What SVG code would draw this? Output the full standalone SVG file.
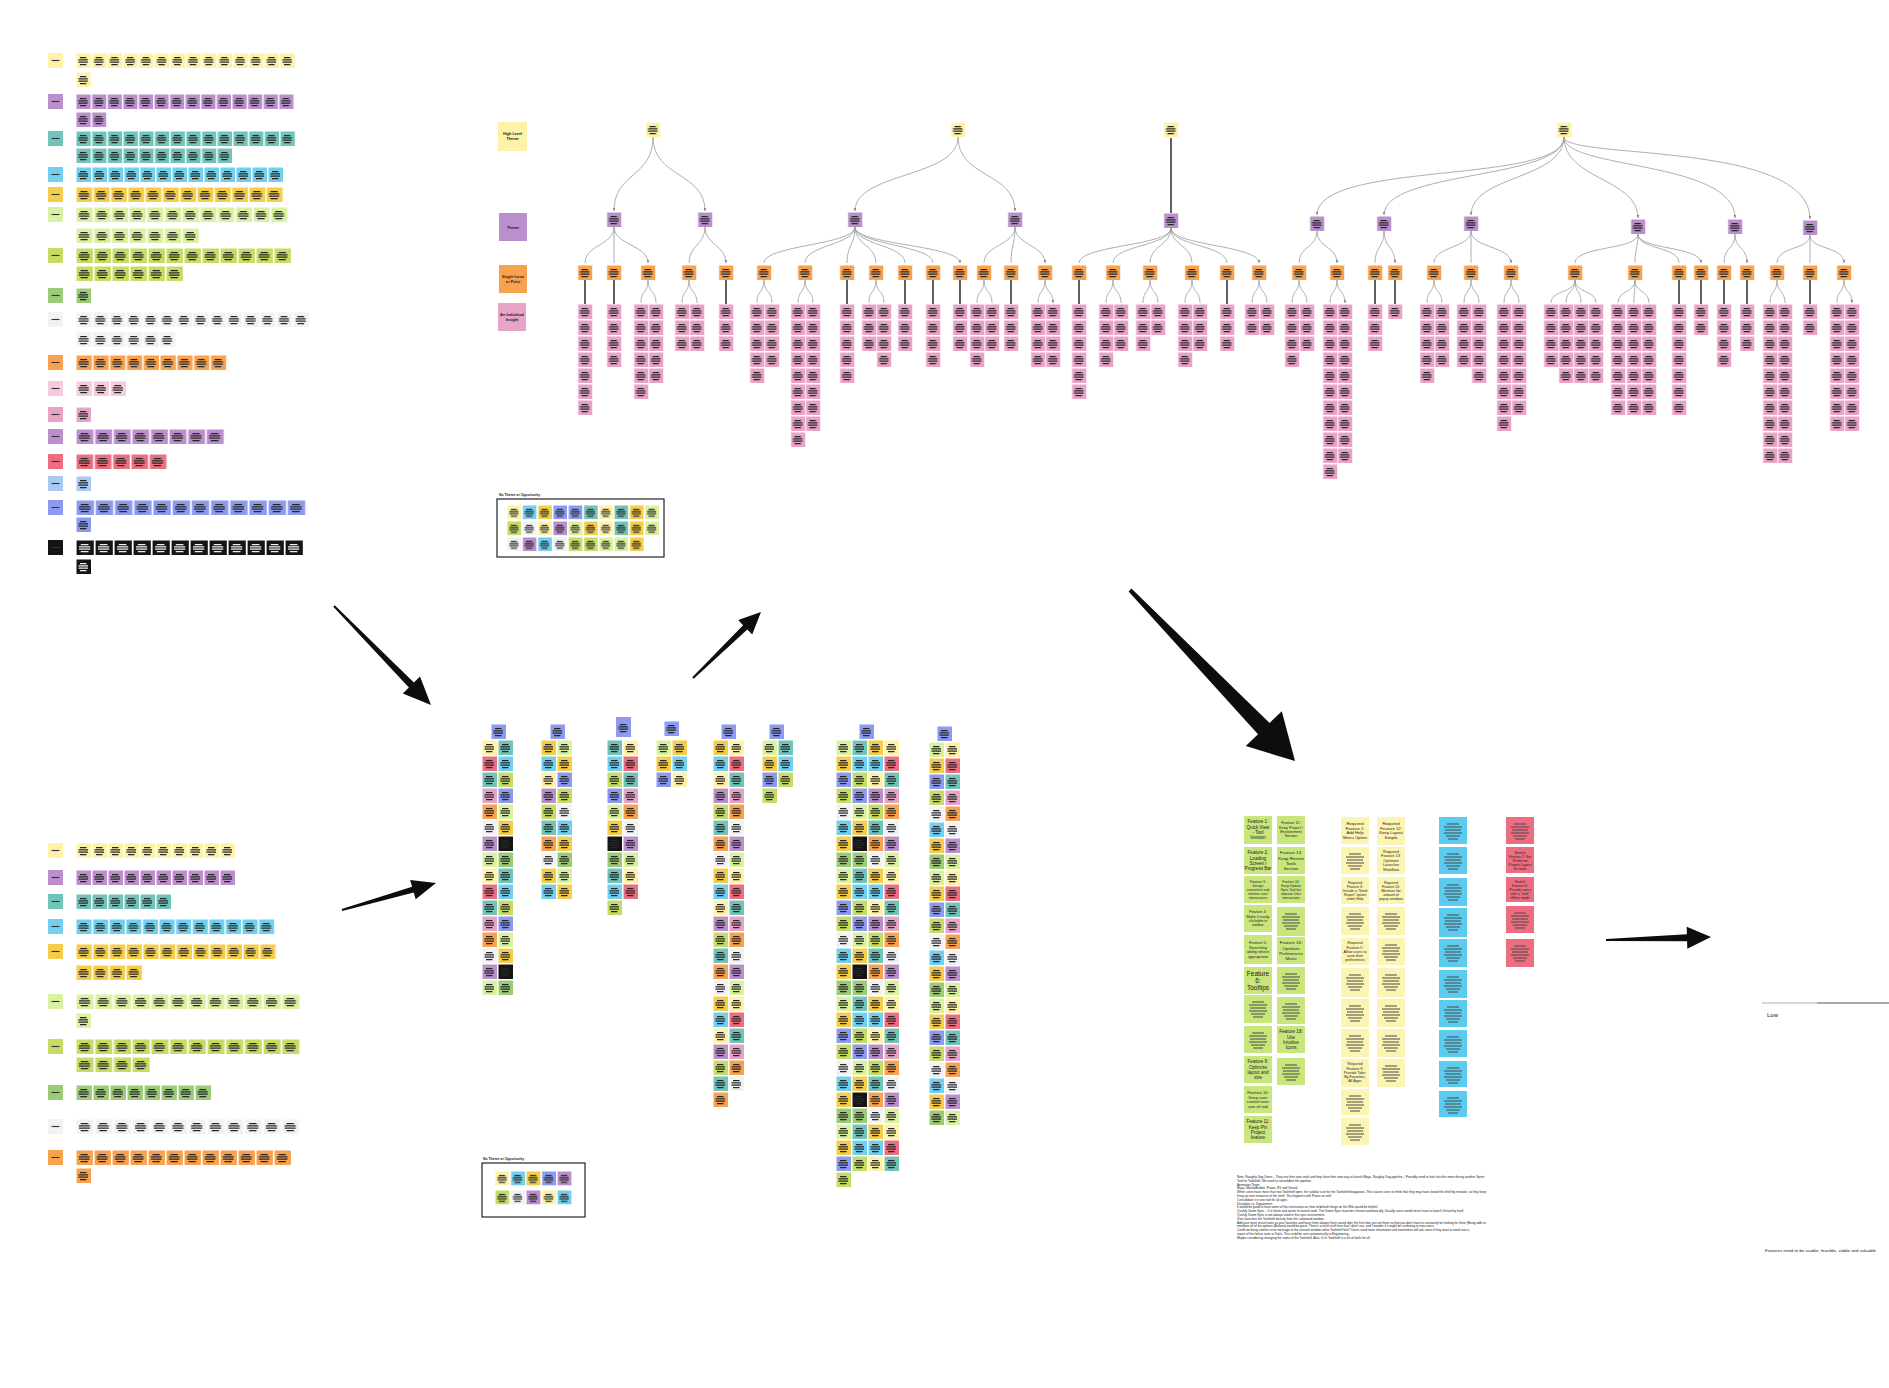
<svg xmlns="http://www.w3.org/2000/svg" width="1889" height="1388" viewBox="0 0 1889 1388">
<style>
text{font-family:"Liberation Sans",Arial,sans-serif;fill:#1a1a1a}
.cv{fill:none;stroke:#9b9b9b;stroke-width:.8;marker-end:url(#ah)}
.sl{fill:none;stroke:#1c1c1c;stroke-width:1.4}
.lg{font-size:3.8px;font-weight:bold;text-anchor:middle}
.ft{text-anchor:middle;fill:#222}
.nt{font-size:3.1px}
.arw{fill:#0d0d0d}
.box{fill:none;stroke:#222;stroke-width:1.2}
.ttl{font-size:3.4px;font-weight:bold}
</style>
<defs>
<path id="t" d="M4 4.6h6.5M2.5 6.9h9.5M2.5 9.2h9.5M4 11.5h6.5" stroke="#262626" stroke-width="1.25" fill="none"/>
<path id="tw" d="M4 4.6h6.5M2.5 6.9h9.5M2.5 9.2h9.5M4 11.5h6.5" stroke="#eeeeee" stroke-width="1.25" fill="none"/>
<path id="tl" d="M3.5 7.5h8" stroke="#333" stroke-width="1.1" fill="none"/>
<path id="t2" d="M8 7h12M5 10h18M6 13h16M5 16h18M7 19h14M9 22h10" stroke="#4a4a4a" stroke-width="1.1" fill="none"/>
<pattern id="T" width="16" height="16" patternUnits="userSpaceOnUse"><use href="#t"/></pattern>
<pattern id="pY" width="16" height="16" patternUnits="userSpaceOnUse"><rect x=".5" y=".5" width="14.5" height="14.5" fill="#FDF2A8"/><use href="#t"/></pattern>
<pattern id="pPu" width="16" height="16" patternUnits="userSpaceOnUse"><rect x=".5" y=".5" width="14.5" height="14.5" fill="#BB8FCC"/><use href="#t"/></pattern>
<pattern id="pTl" width="16" height="16" patternUnits="userSpaceOnUse"><rect x=".5" y=".5" width="14.5" height="14.5" fill="#72C3BA"/><use href="#t"/></pattern>
<pattern id="pLB" width="16" height="16" patternUnits="userSpaceOnUse"><rect x=".5" y=".5" width="14.5" height="14.5" fill="#71D0EE"/><use href="#t"/></pattern>
<pattern id="pGd" width="16" height="16" patternUnits="userSpaceOnUse"><rect x=".5" y=".5" width="14.5" height="14.5" fill="#F4CD4B"/><use href="#t"/></pattern>
<pattern id="pLG" width="16" height="16" patternUnits="userSpaceOnUse"><rect x=".5" y=".5" width="14.5" height="14.5" fill="#D9F1A0"/><use href="#t"/></pattern>
<pattern id="pYG" width="16" height="16" patternUnits="userSpaceOnUse"><rect x=".5" y=".5" width="14.5" height="14.5" fill="#C6DC65"/><use href="#t"/></pattern>
<pattern id="pG" width="16" height="16" patternUnits="userSpaceOnUse"><rect x=".5" y=".5" width="14.5" height="14.5" fill="#9CCB78"/><use href="#t"/></pattern>
<pattern id="pW" width="16" height="16" patternUnits="userSpaceOnUse"><rect x=".5" y=".5" width="14.5" height="14.5" fill="#F1F2F4"/><use href="#t"/></pattern>
<pattern id="pO" width="16" height="16" patternUnits="userSpaceOnUse"><rect x=".5" y=".5" width="14.5" height="14.5" fill="#F8A24F"/><use href="#t"/></pattern>
<pattern id="pLP" width="16" height="16" patternUnits="userSpaceOnUse"><rect x=".5" y=".5" width="14.5" height="14.5" fill="#F8CADD"/><use href="#t"/></pattern>
<pattern id="pPk" width="16" height="16" patternUnits="userSpaceOnUse"><rect x=".5" y=".5" width="14.5" height="14.5" fill="#E8A4C6"/><use href="#t"/></pattern>
<pattern id="pR" width="16" height="16" patternUnits="userSpaceOnUse"><rect x=".5" y=".5" width="14.5" height="14.5" fill="#EC6E81"/><use href="#t"/></pattern>
<pattern id="pB2" width="16" height="16" patternUnits="userSpaceOnUse"><rect x=".5" y=".5" width="14.5" height="14.5" fill="#A8C9F1"/><use href="#t"/></pattern>
<pattern id="pPw" width="16" height="16" patternUnits="userSpaceOnUse"><rect x=".5" y=".5" width="14.5" height="14.5" fill="#8C9BEF"/><use href="#t"/></pattern>
<pattern id="pK" width="16" height="16" patternUnits="userSpaceOnUse"><rect x=".5" y=".5" width="14.5" height="14.5" fill="#151515"/><use href="#tw"/></pattern>
<pattern id="M1" width="16" height="128" patternUnits="userSpaceOnUse"><rect x=".5" y=".5" width="14.5" height="14.5" fill="#FDF2A8"/><rect x=".5" y="16.5" width="14.5" height="14.5" fill="#EC6E81"/><rect x=".5" y="32.5" width="14.5" height="14.5" fill="#72C3BA"/><rect x=".5" y="48.5" width="14.5" height="14.5" fill="#E8A4C6"/><rect x=".5" y="64.5" width="14.5" height="14.5" fill="#F8A24F"/><rect x=".5" y="80.5" width="14.5" height="14.5" fill="#F1F2F4"/><rect x=".5" y="96.5" width="14.5" height="14.5" fill="#BB8FCC"/><rect x=".5" y="112.5" width="14.5" height="14.5" fill="#D9F1A0"/><rect width="16" height="128" fill="url(#T)"/></pattern>
<pattern id="M2" width="16" height="128" patternUnits="userSpaceOnUse"><rect x=".5" y=".5" width="14.5" height="14.5" fill="#72C3BA"/><rect x=".5" y="16.5" width="14.5" height="14.5" fill="#71D0EE"/><rect x=".5" y="32.5" width="14.5" height="14.5" fill="#C6DC65"/><rect x=".5" y="48.5" width="14.5" height="14.5" fill="#8C9BEF"/><rect x=".5" y="64.5" width="14.5" height="14.5" fill="#D9F1A0"/><rect x=".5" y="80.5" width="14.5" height="14.5" fill="#F4CD4B"/><rect x=".5" y="96.5" width="14.5" height="14.5" fill="#151515"/><rect x=".5" y="112.5" width="14.5" height="14.5" fill="#9CCB78"/><rect width="16" height="128" fill="url(#T)"/></pattern>
<pattern id="M3" width="16" height="128" patternUnits="userSpaceOnUse"><rect x=".5" y=".5" width="14.5" height="14.5" fill="#F4CD4B"/><rect x=".5" y="16.5" width="14.5" height="14.5" fill="#71D0EE"/><rect x=".5" y="32.5" width="14.5" height="14.5" fill="#FDF2A8"/><rect x=".5" y="48.5" width="14.5" height="14.5" fill="#BB8FCC"/><rect x=".5" y="64.5" width="14.5" height="14.5" fill="#C6DC65"/><rect x=".5" y="80.5" width="14.5" height="14.5" fill="#72C3BA"/><rect x=".5" y="96.5" width="14.5" height="14.5" fill="#F8A24F"/><rect x=".5" y="112.5" width="14.5" height="14.5" fill="#F1F2F4"/><rect width="16" height="128" fill="url(#T)"/></pattern>
<pattern id="M4" width="16" height="128" patternUnits="userSpaceOnUse"><rect x=".5" y=".5" width="14.5" height="14.5" fill="#D9F1A0"/><rect x=".5" y="16.5" width="14.5" height="14.5" fill="#F4CD4B"/><rect x=".5" y="32.5" width="14.5" height="14.5" fill="#8C9BEF"/><rect x=".5" y="48.5" width="14.5" height="14.5" fill="#C6DC65"/><rect x=".5" y="64.5" width="14.5" height="14.5" fill="#F1F2F4"/><rect x=".5" y="80.5" width="14.5" height="14.5" fill="#71D0EE"/><rect x=".5" y="96.5" width="14.5" height="14.5" fill="#F4CD4B"/><rect x=".5" y="112.5" width="14.5" height="14.5" fill="#9CCB78"/><rect width="16" height="128" fill="url(#T)"/></pattern>
<marker id="ah" viewBox="0 0 6 6" refX="5.5" refY="3" markerWidth="4" markerHeight="4" orient="auto"><path d="M0 .5L6 3L0 5.5z" fill="#8a8a8a"/></marker>
</defs>
<rect width="1889" height="1388" fill="#fff"/>

<g id="grid-top">
<rect x="48" y="53" width="15" height="15" fill="#FDF2A8"/><use href="#tl" x="48" y="53"/>
<rect transform="translate(76 53) scale(.981 1)" width="224" height="15" fill="url(#pY)"/>
<rect transform="translate(76 72) scale(.981 1)" width="16" height="15" fill="url(#pY)"/>
<rect x="48" y="94" width="15" height="15" fill="#BB8FCC"/><use href="#tl" x="48" y="94"/>
<rect transform="translate(76 94) scale(.975 1)" width="224" height="15" fill="url(#pPu)"/>
<rect transform="translate(76 112) scale(.975 1)" width="32" height="15" fill="url(#pPu)"/>
<rect x="48" y="131" width="15" height="15" fill="#72C3BA"/><use href="#tl" x="48" y="131"/>
<rect transform="translate(76 131) scale(.981 1)" width="224" height="15" fill="url(#pTl)"/>
<rect transform="translate(76 148) scale(.981 1)" width="160" height="15" fill="url(#pTl)"/>
<rect x="48" y="167" width="15" height="15" fill="#71D0EE"/><use href="#tl" x="48" y="167"/>
<rect transform="translate(76 167)" width="208" height="15" fill="url(#pLB)"/>
<rect x="48" y="187" width="15" height="15" fill="#F4CD4B"/><use href="#tl" x="48" y="187"/>
<rect transform="translate(76 187) scale(1.081 1)" width="192" height="15" fill="url(#pGd)"/>
<rect x="48" y="207" width="15" height="15" fill="#D9F1A0"/><use href="#tl" x="48" y="207"/>
<rect transform="translate(76 207) scale(1.106 1)" width="192" height="15" fill="url(#pLG)"/>
<rect transform="translate(76 228) scale(1.106 1)" width="112" height="15" fill="url(#pLG)"/>
<rect x="48" y="248" width="15" height="15" fill="#C6DC65"/><use href="#tl" x="48" y="248"/>
<rect transform="translate(76 248) scale(1.125 1)" width="192" height="15" fill="url(#pYG)"/>
<rect transform="translate(76 266) scale(1.125 1)" width="96" height="15" fill="url(#pYG)"/>
<rect x="48" y="288" width="15" height="15" fill="#9CCB78"/><use href="#tl" x="48" y="288"/>
<rect transform="translate(76 288)" width="16" height="15" fill="url(#pG)"/>
<rect x="48" y="312" width="15" height="15" fill="#F1F2F4"/><use href="#tl" x="48" y="312"/>
<rect transform="translate(76 312) scale(1.044 1)" width="224" height="15" fill="url(#pW)"/>
<rect transform="translate(76 332) scale(1.044 1)" width="96" height="15" fill="url(#pW)"/>
<rect x="48" y="355" width="15" height="15" fill="#F8A24F"/><use href="#tl" x="48" y="355"/>
<rect transform="translate(76 355) scale(1.05 1)" width="144" height="15" fill="url(#pO)"/>
<rect x="48" y="381" width="15" height="15" fill="#F8CADD"/><use href="#tl" x="48" y="381"/>
<rect transform="translate(76 381) scale(1.0625 1)" width="48" height="15" fill="url(#pLP)"/>
<rect x="48" y="407" width="15" height="15" fill="#E8A4C6"/><use href="#tl" x="48" y="407"/>
<rect transform="translate(76 407)" width="16" height="15" fill="url(#pPk)"/>
<rect x="48" y="429" width="15" height="15" fill="#BB8FCC"/><use href="#tl" x="48" y="429"/>
<rect transform="translate(76 429) scale(1.1625 1)" width="128" height="15" fill="url(#pPu)"/>
<rect x="48" y="454" width="15" height="15" fill="#EC6E81"/><use href="#tl" x="48" y="454"/>
<rect transform="translate(76 454) scale(1.144 1)" width="80" height="15" fill="url(#pR)"/>
<rect x="48" y="476" width="15" height="15" fill="#A8C9F1"/><use href="#tl" x="48" y="476"/>
<rect transform="translate(76 476)" width="16" height="15" fill="url(#pB2)"/>
<rect x="48" y="500" width="15" height="15" fill="#8C9BEF"/><use href="#tl" x="48" y="500"/>
<rect transform="translate(76 500) scale(1.2 1)" width="192" height="15" fill="url(#pPw)"/>
<rect transform="translate(76 517)" width="16" height="15" fill="url(#pPw)"/>
<rect x="48" y="540" width="15" height="15" fill="#151515"/><use href="#tl" x="48" y="540" stroke="#eee"/>
<rect transform="translate(76 540) scale(1.1875 1)" width="192" height="15" fill="url(#pK)"/>
<rect transform="translate(76 559)" width="16" height="15" fill="url(#pK)"/>
</g>

<g id="grid-bottom">
<rect x="48" y="843" width="15" height="15" fill="#FDF2A8"/><use href="#tl" x="48" y="843"/>
<rect transform="translate(76 843)" width="160" height="15" fill="url(#pY)"/>
<rect x="48" y="870" width="15" height="15" fill="#BB8FCC"/><use href="#tl" x="48" y="870"/>
<rect transform="translate(76 870)" width="160" height="15" fill="url(#pPu)"/>
<rect x="48" y="894" width="15" height="15" fill="#72C3BA"/><use href="#tl" x="48" y="894"/>
<rect transform="translate(76 894)" width="96" height="15" fill="url(#pTl)"/>
<rect x="48" y="919" width="15" height="15" fill="#71D0EE"/><use href="#tl" x="48" y="919"/>
<rect transform="translate(76 919) scale(1.0375 1)" width="192" height="15" fill="url(#pLB)"/>
<rect x="48" y="944" width="15" height="15" fill="#F4CD4B"/><use href="#tl" x="48" y="944"/>
<rect transform="translate(76 944) scale(1.044 1)" width="192" height="15" fill="url(#pGd)"/>
<rect transform="translate(76 965) scale(1.044 1)" width="64" height="15" fill="url(#pGd)"/>
<rect x="48" y="994" width="15" height="15" fill="#D9F1A0"/><use href="#tl" x="48" y="994"/>
<rect transform="translate(76 994) scale(1.169 1)" width="192" height="15" fill="url(#pLG)"/>
<rect transform="translate(76 1013)" width="16" height="15" fill="url(#pLG)"/>
<rect x="48" y="1039" width="15" height="15" fill="#C6DC65"/><use href="#tl" x="48" y="1039"/>
<rect transform="translate(76 1039) scale(1.169 1)" width="192" height="15" fill="url(#pYG)"/>
<rect transform="translate(76 1057) scale(1.169 1)" width="64" height="15" fill="url(#pYG)"/>
<rect x="48" y="1085" width="15" height="15" fill="#9CCB78"/><use href="#tl" x="48" y="1085"/>
<rect transform="translate(76 1085) scale(1.0625 1)" width="128" height="15" fill="url(#pG)"/>
<rect x="48" y="1119" width="15" height="15" fill="#F1F2F4"/><use href="#tl" x="48" y="1119"/>
<rect transform="translate(76 1119) scale(1.169 1)" width="192" height="15" fill="url(#pW)"/>
<rect x="48" y="1150" width="15" height="15" fill="#F8A24F"/><use href="#tl" x="48" y="1150"/>
<rect transform="translate(76 1150) scale(1.125 1)" width="192" height="15" fill="url(#pO)"/>
<rect transform="translate(76 1168)" width="16" height="15" fill="url(#pO)"/>
</g>

<g id="legend">
<rect x="498" y="122" width="29" height="29" fill="#FDF2A8"/>
<text class="lg"><tspan x="512.5" y="135">High Level</tspan><tspan x="512.5" y="140">Theme</tspan></text>
<rect x="499" y="213" width="28" height="28" fill="#BB8FCC"/>
<text class="lg" x="513" y="228.5">Theme</text>
<rect x="499" y="265" width="28" height="28" fill="#F8A24F"/>
<text class="lg"><tspan x="513" y="278">Single Issue</tspan><tspan x="513" y="283">or Point</tspan></text>
<rect x="498" y="303" width="28" height="28" fill="#E8A4C6"/>
<text class="lg"><tspan x="512" y="316">An Individual</tspan><tspan x="512" y="321">Insight</tspan></text>
</g>

<g id="connectors">
<path class="cv" d="M653 137C653 178 614 172 614 211"/>
<path class="cv" d="M653 137C653 178 705 172 705 211"/>
<path class="cv" d="M958 137C958 178 855 172 855 211"/>
<path class="cv" d="M958 137C958 178 1015 172 1015 211"/>
<path class="sl" d="M1171 138V213"/>
<path class="cv" d="M1564 137C1564 185 1317 160 1317 215"/>
<path class="cv" d="M1564 137C1564 180 1384 170 1384 215"/>
<path class="cv" d="M1564 137C1564 180 1471 175 1471 215"/>
<path class="cv" d="M1564 137C1564 180 1638 178 1638 218"/>
<path class="cv" d="M1564 137C1564 170 1735 160 1735 218"/>
<path class="cv" d="M1564 137C1564 160 1810 140 1810 219"/>
<path class="cv" d="M614 227C614 245 585 245 585 263M614 227C614 245 614 245 614 263M614 227C614 245 648 245 648 263"/>
<path class="cv" d="M705 227C705 245 689 245 689 263M705 227C705 245 726 245 726 263"/>
<path class="cv" d="M855 227C855 245 764 245 764 263M855 227C855 245 805 245 805 263M855 227C855 245 847 245 847 263M855 227C855 245 876 245 876 263M855 227C855 245 905 245 905 263M855 227C855 245 933 245 933 263M855 227C855 245 960 245 960 263"/>
<path class="cv" d="M1015 227C1015 245 984 245 984 263M1015 227C1015 245 1011 245 1011 263M1015 227C1015 245 1045 245 1045 263"/>
<path class="cv" d="M1171 228C1171 246 1079 245 1079 263M1171 228C1171 246 1113 245 1113 263M1171 228C1171 246 1150 245 1150 263M1171 228C1171 246 1192 245 1192 263M1171 228C1171 246 1227 245 1227 263M1171 228C1171 246 1259 245 1259 263"/>
<path class="cv" d="M1317 231C1317 248 1299 246 1299 263M1317 231C1317 248 1337 246 1337 263"/>
<path class="cv" d="M1384 231C1384 248 1375 246 1375 263M1384 231C1384 248 1395 246 1395 263"/>
<path class="cv" d="M1471 231C1471 248 1434 246 1434 263M1471 231C1471 248 1471 246 1471 263M1471 231C1471 248 1511 246 1511 263"/>
<path class="cv" d="M1638 234C1638 250 1575 246 1575 263M1638 234C1638 250 1635 246 1635 263M1638 234C1638 250 1679 246 1679 263M1638 234C1638 250 1701 246 1701 263"/>
<path class="cv" d="M1735 234C1735 250 1724 246 1724 263M1735 234C1735 250 1747 246 1747 263"/>
<path class="cv" d="M1810 235C1810 250 1777 246 1777 263M1810 235C1810 250 1810 246 1810 263M1810 235C1810 250 1844 246 1844 263"/>
<path class="sl" d="M585 280V304M614 280V304M726 280V304M847 280V304M905 280V304M933 280V304M960 280V304M1011 280V304M1079 280V304M1227 280V304M1375 280V304M1395 280V304M1679 280V304M1701 280V304M1724 280V304M1747 280V304M1810 280V304"/>
<path class="cv" d="M648 280C648 293 641 290 641 303M648 280C648 293 656 290 656 303M689 280C689 293 682 290 682 303M689 280C689 293 697 290 697 303M764 280C764 293 757 290 757 303M764 280C764 293 772 290 772 303M805 280C805 293 798 290 798 303M805 280C805 293 813 290 813 303M876 280C876 293 869 290 869 303M876 280C876 293 884 290 884 303M984 280C984 293 977 290 977 303M984 280C984 293 992 290 992 303M1045 280C1045 293 1038 290 1038 303M1045 280C1045 293 1053 290 1053 303"/>
<path class="cv" d="M1113 280C1113 293 1106 290 1106 303M1113 280C1113 293 1121 290 1121 303M1150 280C1150 293 1143 290 1143 303M1150 280C1150 293 1158 290 1158 303M1192 280C1192 293 1185 290 1185 303M1192 280C1192 293 1200 290 1200 303M1259 280C1259 293 1252 290 1252 303M1259 280C1259 293 1267 290 1267 303M1299 280C1299 293 1292 290 1292 303M1299 280C1299 293 1307 290 1307 303M1337 280C1337 293 1330 290 1330 303M1337 280C1337 293 1345 290 1345 303"/>
<path class="cv" d="M1434 280C1434 293 1427 290 1427 303M1434 280C1434 293 1442 290 1442 303M1471 280C1471 293 1464 290 1464 303M1471 280C1471 293 1479 290 1479 303M1511 280C1511 293 1504 290 1504 303M1511 280C1511 293 1519 290 1519 303M1575 280C1575 293 1551 290 1551 303M1575 280C1575 293 1566 290 1566 303M1575 280C1575 293 1581 290 1581 303M1575 280C1575 293 1596 290 1596 303M1635 280C1635 293 1618 290 1618 303M1635 280C1635 293 1634 290 1634 303M1635 280C1635 293 1649 290 1649 303M1777 280C1777 293 1770 290 1770 303M1777 280C1777 293 1785 290 1785 303M1844 280C1844 293 1837 290 1837 303M1844 280C1844 293 1852 290 1852 303"/>
</g>

<g id="tree-themes">
<rect transform="translate(645.5 122)" width="15" height="15" fill="url(#pY)"/>
<rect transform="translate(950.5 122)" width="15" height="15" fill="url(#pY)"/>
<rect transform="translate(1163.5 122)" width="15" height="15" fill="url(#pY)"/>
<rect transform="translate(1556.5 122)" width="15" height="15" fill="url(#pY)"/>
<rect transform="translate(606.5 212)" width="15" height="15" fill="url(#pPu)"/>
<rect transform="translate(697.5 212)" width="15" height="15" fill="url(#pPu)"/>
<rect transform="translate(847.5 212)" width="15" height="15" fill="url(#pPu)"/>
<rect transform="translate(1007.5 212)" width="15" height="15" fill="url(#pPu)"/>
<rect transform="translate(1163.5 213)" width="15" height="15" fill="url(#pPu)"/>
<rect transform="translate(1309.5 216)" width="15" height="15" fill="url(#pPu)"/>
<rect transform="translate(1376.5 216)" width="15" height="15" fill="url(#pPu)"/>
<rect transform="translate(1463.5 216)" width="15" height="15" fill="url(#pPu)"/>
<rect transform="translate(1630.5 219)" width="15" height="15" fill="url(#pPu)"/>
<rect transform="translate(1727.5 219)" width="15" height="15" fill="url(#pPu)"/>
<rect transform="translate(1802.5 220)" width="15" height="15" fill="url(#pPu)"/>
</g>

<g id="tree-issues">
<rect transform="translate(577.5 265)" width="15" height="15" fill="url(#pO)"/>
<rect transform="translate(606.5 265)" width="15" height="15" fill="url(#pO)"/>
<rect transform="translate(640.5 265)" width="15" height="15" fill="url(#pO)"/>
<rect transform="translate(681.5 265)" width="15" height="15" fill="url(#pO)"/>
<rect transform="translate(718.5 265)" width="15" height="15" fill="url(#pO)"/>
<rect transform="translate(756.5 265)" width="15" height="15" fill="url(#pO)"/>
<rect transform="translate(797.5 265)" width="15" height="15" fill="url(#pO)"/>
<rect transform="translate(839.5 265)" width="15" height="15" fill="url(#pO)"/>
<rect transform="translate(868.5 265)" width="15" height="15" fill="url(#pO)"/>
<rect transform="translate(897.5 265)" width="15" height="15" fill="url(#pO)"/>
<rect transform="translate(925.5 265)" width="15" height="15" fill="url(#pO)"/>
<rect transform="translate(952.5 265)" width="15" height="15" fill="url(#pO)"/>
<rect transform="translate(976.5 265)" width="15" height="15" fill="url(#pO)"/>
<rect transform="translate(1003.5 265)" width="15" height="15" fill="url(#pO)"/>
<rect transform="translate(1037.5 265)" width="15" height="15" fill="url(#pO)"/>
<rect transform="translate(1071.5 265)" width="15" height="15" fill="url(#pO)"/>
<rect transform="translate(1105.5 265)" width="15" height="15" fill="url(#pO)"/>
<rect transform="translate(1142.5 265)" width="15" height="15" fill="url(#pO)"/>
<rect transform="translate(1184.5 265)" width="15" height="15" fill="url(#pO)"/>
<rect transform="translate(1219.5 265)" width="15" height="15" fill="url(#pO)"/>
<rect transform="translate(1251.5 265)" width="15" height="15" fill="url(#pO)"/>
<rect transform="translate(1291.5 265)" width="15" height="15" fill="url(#pO)"/>
<rect transform="translate(1329.5 265)" width="15" height="15" fill="url(#pO)"/>
<rect transform="translate(1367.5 265)" width="15" height="15" fill="url(#pO)"/>
<rect transform="translate(1387.5 265)" width="15" height="15" fill="url(#pO)"/>
<rect transform="translate(1426.5 265)" width="15" height="15" fill="url(#pO)"/>
<rect transform="translate(1463.5 265)" width="15" height="15" fill="url(#pO)"/>
<rect transform="translate(1503.5 265)" width="15" height="15" fill="url(#pO)"/>
<rect transform="translate(1567.5 265)" width="15" height="15" fill="url(#pO)"/>
<rect transform="translate(1627.5 265)" width="15" height="15" fill="url(#pO)"/>
<rect transform="translate(1671.5 265)" width="15" height="15" fill="url(#pO)"/>
<rect transform="translate(1693.5 265)" width="15" height="15" fill="url(#pO)"/>
<rect transform="translate(1716.5 265)" width="15" height="15" fill="url(#pO)"/>
<rect transform="translate(1739.5 265)" width="15" height="15" fill="url(#pO)"/>
<rect transform="translate(1769.5 265)" width="15" height="15" fill="url(#pO)"/>
<rect transform="translate(1802.5 265)" width="15" height="15" fill="url(#pO)"/>
<rect transform="translate(1836.5 265)" width="15" height="15" fill="url(#pO)"/>
</g>

<g id="tree-insights">
<rect transform="translate(577.5 304)" width="15" height="111" fill="url(#pPk)"/>
<rect transform="translate(606.5 304)" width="15" height="63" fill="url(#pPk)"/>
<rect transform="translate(633.5 304)" width="15" height="95" fill="url(#pPk)"/>
<rect transform="translate(648.5 304)" width="15" height="79" fill="url(#pPk)"/>
<rect transform="translate(674.5 304)" width="15" height="47" fill="url(#pPk)"/>
<rect transform="translate(689.5 304)" width="15" height="47" fill="url(#pPk)"/>
<rect transform="translate(718.5 304)" width="15" height="47" fill="url(#pPk)"/>
<rect transform="translate(749.5 304)" width="15" height="79" fill="url(#pPk)"/>
<rect transform="translate(764.5 304)" width="15" height="63" fill="url(#pPk)"/>
<rect transform="translate(790.5 304)" width="15" height="143" fill="url(#pPk)"/>
<rect transform="translate(805.5 304)" width="15" height="127" fill="url(#pPk)"/>
<rect transform="translate(839.5 304)" width="15" height="79" fill="url(#pPk)"/>
<rect transform="translate(861.5 304)" width="15" height="47" fill="url(#pPk)"/>
<rect transform="translate(876.5 304)" width="15" height="63" fill="url(#pPk)"/>
<rect transform="translate(897.5 304)" width="15" height="47" fill="url(#pPk)"/>
<rect transform="translate(925.5 304)" width="15" height="63" fill="url(#pPk)"/>
<rect transform="translate(952.5 304)" width="15" height="47" fill="url(#pPk)"/>
<rect transform="translate(969.5 304)" width="15" height="63" fill="url(#pPk)"/>
<rect transform="translate(984.5 304)" width="15" height="47" fill="url(#pPk)"/>
<rect transform="translate(1003.5 304)" width="15" height="47" fill="url(#pPk)"/>
<rect transform="translate(1030.5 304)" width="15" height="63" fill="url(#pPk)"/>
<rect transform="translate(1045.5 304)" width="15" height="63" fill="url(#pPk)"/>
<rect transform="translate(1071.5 304)" width="15" height="95" fill="url(#pPk)"/>
<rect transform="translate(1098.5 304)" width="15" height="63" fill="url(#pPk)"/>
<rect transform="translate(1113.5 304)" width="15" height="47" fill="url(#pPk)"/>
<rect transform="translate(1135.5 304)" width="15" height="47" fill="url(#pPk)"/>
<rect transform="translate(1150.5 304)" width="15" height="31" fill="url(#pPk)"/>
<rect transform="translate(1177.5 304)" width="15" height="63" fill="url(#pPk)"/>
<rect transform="translate(1192.5 304)" width="15" height="47" fill="url(#pPk)"/>
<rect transform="translate(1219.5 304)" width="15" height="47" fill="url(#pPk)"/>
<rect transform="translate(1244.5 304)" width="15" height="31" fill="url(#pPk)"/>
<rect transform="translate(1259.5 304)" width="15" height="31" fill="url(#pPk)"/>
<rect transform="translate(1284.5 304)" width="15" height="63" fill="url(#pPk)"/>
<rect transform="translate(1299.5 304)" width="15" height="47" fill="url(#pPk)"/>
<rect transform="translate(1322.5 304)" width="15" height="175" fill="url(#pPk)"/>
<rect transform="translate(1337.5 304)" width="15" height="159" fill="url(#pPk)"/>
<rect transform="translate(1367.5 304)" width="15" height="47" fill="url(#pPk)"/>
<rect transform="translate(1387.5 304)" width="15" height="15" fill="url(#pPk)"/>
<rect transform="translate(1419.5 304)" width="15" height="79" fill="url(#pPk)"/>
<rect transform="translate(1434.5 304)" width="15" height="63" fill="url(#pPk)"/>
<rect transform="translate(1456.5 304)" width="15" height="63" fill="url(#pPk)"/>
<rect transform="translate(1471.5 304)" width="15" height="79" fill="url(#pPk)"/>
<rect transform="translate(1496.5 304)" width="15" height="127" fill="url(#pPk)"/>
<rect transform="translate(1511.5 304)" width="15" height="111" fill="url(#pPk)"/>
<rect transform="translate(1543.5 304)" width="15" height="63" fill="url(#pPk)"/>
<rect transform="translate(1558.5 304)" width="15" height="79" fill="url(#pPk)"/>
<rect transform="translate(1573.5 304)" width="15" height="79" fill="url(#pPk)"/>
<rect transform="translate(1588.5 304)" width="15" height="79" fill="url(#pPk)"/>
<rect transform="translate(1610.5 304)" width="15" height="111" fill="url(#pPk)"/>
<rect transform="translate(1626.5 304)" width="15" height="111" fill="url(#pPk)"/>
<rect transform="translate(1641.5 304)" width="15" height="111" fill="url(#pPk)"/>
<rect transform="translate(1671.5 304)" width="15" height="111" fill="url(#pPk)"/>
<rect transform="translate(1693.5 304)" width="15" height="31" fill="url(#pPk)"/>
<rect transform="translate(1716.5 304)" width="15" height="63" fill="url(#pPk)"/>
<rect transform="translate(1739.5 304)" width="15" height="47" fill="url(#pPk)"/>
<rect transform="translate(1762.5 304)" width="15" height="159" fill="url(#pPk)"/>
<rect transform="translate(1777.5 304)" width="15" height="159" fill="url(#pPk)"/>
<rect transform="translate(1802.5 304)" width="15" height="31" fill="url(#pPk)"/>
<rect transform="translate(1829.5 304)" width="15" height="127" fill="url(#pPk)"/>
<rect transform="translate(1844.5 304)" width="15" height="127" fill="url(#pPk)"/>
</g>

<g id="no-theme-top">
<text class="ttl" x="499" y="496">No Theme or Opportunity</text>
<rect class="box" x="497" y="499" width="167" height="58"/>
<g transform="translate(507 505) scale(.956)"><rect width="15" height="15" fill="url(#pY)"/><rect x="16" width="15" height="15" fill="url(#pLB)"/><rect x="32" width="15" height="15" fill="url(#pGd)"/><rect x="48" width="15" height="15" fill="url(#pPw)"/><rect x="64" width="15" height="15" fill="url(#pPw)"/><rect x="80" width="15" height="15" fill="url(#pTl)"/><rect x="96" width="15" height="15" fill="url(#pY)"/><rect x="112" width="15" height="15" fill="url(#pTl)"/><rect x="128" width="15" height="15" fill="url(#pGd)"/><rect x="144" width="15" height="15" fill="url(#pLG)"/></g>
<g transform="translate(507 521) scale(.956)"><rect width="15" height="15" fill="url(#pYG)"/><rect x="16" width="15" height="15" fill="url(#pW)"/><rect x="32" width="15" height="15" fill="url(#pY)"/><rect x="48" width="15" height="15" fill="url(#pPu)"/><rect x="64" width="15" height="15" fill="url(#pLG)"/><rect x="80" width="15" height="15" fill="url(#pGd)"/><rect x="96" width="15" height="15" fill="url(#pY)"/><rect x="112" width="15" height="15" fill="url(#pTl)"/><rect x="128" width="15" height="15" fill="url(#pGd)"/><rect x="144" width="15" height="15" fill="url(#pLG)"/></g>
<g transform="translate(507 537) scale(.956)"><rect width="15" height="15" fill="url(#pW)"/><rect x="16" width="15" height="15" fill="url(#pPu)"/><rect x="32" width="15" height="15" fill="url(#pLB)"/><rect x="48" width="15" height="15" fill="url(#pW)"/><rect x="64" width="15" height="15" fill="url(#pYG)"/><rect x="80" width="15" height="15" fill="url(#pYG)"/><rect x="96" width="15" height="15" fill="url(#pLG)"/><rect x="112" width="15" height="15" fill="url(#pLG)"/><rect x="128" width="15" height="15" fill="url(#pGd)"/></g>
</g>

<g id="clusters">
<rect transform="translate(491 724)" width="15" height="15" fill="url(#pPw)"/>
<rect transform="translate(482 740)" width="15" height="255" fill="url(#M1)"/>
<rect transform="translate(498 740)" width="15" height="255" fill="url(#M2)"/>
<rect transform="translate(550 724)" width="15" height="15" fill="url(#pPw)"/>
<rect transform="translate(541 740)" width="15" height="159" fill="url(#M3)"/>
<rect transform="translate(557 740)" width="15" height="159" fill="url(#M4)"/>
<rect x="616" y="717" width="15" height="20" fill="#8C9BEF"/><use href="#t" x="616" y="720"/>
<rect transform="translate(607 740)" width="15" height="175" fill="url(#M2)"/>
<rect transform="translate(623 740)" width="15" height="159" fill="url(#M1)"/>
<rect transform="translate(664 721)" width="15" height="15" fill="url(#pPw)"/>
<rect transform="translate(656 740)" width="15" height="47" fill="url(#M4)"/>
<rect transform="translate(672 740)" width="15" height="47" fill="url(#M3)"/>
<rect transform="translate(721 724)" width="15" height="15" fill="url(#pPw)"/>
<rect transform="translate(713 740)" width="15" height="367" fill="url(#M3)"/>
<rect transform="translate(729 740)" width="15" height="351" fill="url(#M1)"/>
<rect transform="translate(769 724)" width="15" height="15" fill="url(#pPw)"/>
<rect transform="translate(762 740)" width="15" height="63" fill="url(#M4)"/>
<rect transform="translate(778 740)" width="15" height="47" fill="url(#M2)"/>
<rect transform="translate(859 724)" width="15" height="15" fill="url(#pPw)"/>
<rect transform="translate(836 740)" width="15" height="447" fill="url(#M4)"/>
<rect transform="translate(852 740)" width="15" height="431" fill="url(#M2)"/>
<rect transform="translate(868 740)" width="15" height="431" fill="url(#M3)"/>
<rect transform="translate(884 740)" width="15" height="431" fill="url(#M1)"/>
<rect transform="translate(937 726)" width="15" height="15" fill="url(#pPw)"/>
<rect transform="translate(929 742)" width="15" height="383" fill="url(#M4)"/>
<rect transform="translate(945 742)" width="15" height="383" fill="url(#M1)"/>
</g>

<g id="no-theme-bottom">
<text class="ttl" x="483" y="1160">No Theme or Opportunity</text>
<rect class="box" x="482" y="1163" width="103" height="54"/>
<g transform="translate(495 1171) scale(.97)"><rect width="15" height="15" fill="url(#pY)"/><rect x="16" width="15" height="15" fill="url(#pLB)"/><rect x="32" width="15" height="15" fill="url(#pGd)"/><rect x="48" width="15" height="15" fill="url(#pPw)"/><rect x="64" width="15" height="15" fill="url(#pPu)"/></g>
<g transform="translate(495 1190) scale(.97)"><rect width="15" height="15" fill="url(#pYG)"/><rect x="16" width="15" height="15" fill="url(#pW)"/><rect x="32" width="15" height="15" fill="url(#pPu)"/><rect x="48" width="15" height="15" fill="url(#pY)"/><rect x="64" width="15" height="15" fill="url(#pLB)"/></g>
</g>

<g id="arrows">
<polygon class="arw" points="334.7,605.3 413.9,682.6 420,676.6 431,705 402.8,693.4 408.9,687.5 333.3,606.7"/>
<polygon class="arw" points="692.3,677.3 743.1,625.2 738.2,620.1 761,612 752.2,634.5 747.3,629.5 693.7,678.7"/>
<polygon class="arw" points="1131.4,588.6 1269.6,723 1281.8,711.3 1295,761 1245.8,746 1258,734.2 1128.6,591.4"/>
<polygon class="arw" points="341.7,909 412.1,886.7 410.1,880 436,883 415.7,899.2 413.7,892.5 342.3,911"/>
<polygon class="arw" points="1606,939 1686.9,934.2 1686.7,926.7 1711,937 1687.3,948.7 1687.1,941.2 1606,941"/>
</g>

<g id="features">
<g fill="#C8E67C">
<rect x="1244" y="816" width="28" height="28"/><rect x="1244" y="847" width="28" height="27"/><rect x="1244" y="876" width="28" height="27"/><rect x="1244" y="905" width="28" height="27"/><rect x="1244" y="935" width="28" height="29"/><rect x="1244" y="967" width="28" height="27"/><rect x="1244" y="995" width="28" height="28"/><rect x="1244" y="1026" width="28" height="27"/><rect x="1244" y="1056" width="28" height="27"/><rect x="1244" y="1086" width="28" height="27"/><rect x="1244" y="1116" width="28" height="27"/>
<rect x="1277" y="816" width="28" height="28"/><rect x="1277" y="847" width="28" height="27"/><rect x="1277" y="876" width="28" height="27"/><rect x="1277" y="907" width="28" height="29"/><rect x="1277" y="937" width="28" height="27"/><rect x="1277" y="967" width="28" height="27"/><rect x="1277" y="997" width="28" height="27"/><rect x="1277" y="1026" width="28" height="27"/><rect x="1277" y="1058" width="28" height="27"/>
</g>
<g fill="#FCF4B2">
<rect x="1341" y="817" width="28" height="27"/><rect x="1341" y="847" width="28" height="27"/><rect x="1341" y="877" width="28" height="27"/><rect x="1341" y="907" width="28" height="28"/><rect x="1341" y="938" width="28" height="27"/><rect x="1341" y="968" width="28" height="29"/><rect x="1341" y="999" width="28" height="28"/><rect x="1341" y="1029" width="28" height="28"/><rect x="1341" y="1059" width="28" height="28"/><rect x="1341" y="1089" width="28" height="26"/><rect x="1341" y="1118" width="28" height="27"/>
<rect x="1377" y="817" width="28" height="28"/><rect x="1377" y="847" width="28" height="27"/><rect x="1377" y="877" width="28" height="27"/><rect x="1377" y="907" width="28" height="28"/><rect x="1377" y="938" width="28" height="27"/><rect x="1377" y="968" width="28" height="29"/><rect x="1377" y="999" width="28" height="28"/><rect x="1377" y="1029" width="28" height="28"/><rect x="1377" y="1059" width="28" height="28"/>
</g>
<g fill="#5BCBEF">
<rect x="1439" y="817" width="28" height="27"/><rect x="1439" y="847" width="28" height="27"/><rect x="1439" y="878" width="28" height="28"/><rect x="1439" y="908" width="28" height="29"/><rect x="1439" y="939" width="28" height="28"/><rect x="1439" y="970" width="28" height="28"/><rect x="1439" y="1000" width="28" height="27"/><rect x="1439" y="1030" width="28" height="27"/><rect x="1439" y="1061" width="28" height="26"/><rect x="1439" y="1091" width="28" height="26"/>
</g>
<g fill="#EC6C80">
<rect x="1506" y="817" width="28" height="27"/><rect x="1506" y="847" width="28" height="26"/><rect x="1506" y="877" width="28" height="25"/><rect x="1506" y="906" width="28" height="27"/><rect x="1506" y="939" width="28" height="28"/>
</g>
<use href="#t2" x="1244" y="995"/><use href="#t2" x="1244" y="1026"/>
<use href="#t2" x="1277" y="907"/><use href="#t2" x="1277" y="967"/><use href="#t2" x="1277" y="997"/><use href="#t2" x="1277" y="1058"/>
<use href="#t2" x="1341" y="847"/><use href="#t2" x="1341" y="907"/><use href="#t2" x="1341" y="968"/><use href="#t2" x="1341" y="999"/><use href="#t2" x="1341" y="1029"/><use href="#t2" x="1341" y="1089"/><use href="#t2" x="1341" y="1118"/>
<use href="#t2" x="1377" y="907"/><use href="#t2" x="1377" y="938"/><use href="#t2" x="1377" y="968"/><use href="#t2" x="1377" y="999"/><use href="#t2" x="1377" y="1029"/><use href="#t2" x="1377" y="1059"/>
<use href="#t2" x="1439" y="817"/><use href="#t2" x="1439" y="847"/><use href="#t2" x="1439" y="878"/><use href="#t2" x="1439" y="908"/><use href="#t2" x="1439" y="939"/><use href="#t2" x="1439" y="970"/><use href="#t2" x="1439" y="1000"/><use href="#t2" x="1439" y="1030"/><use href="#t2" x="1439" y="1061"/><use href="#t2" x="1439" y="1091"/>
<use href="#t2" x="1506" y="817"/><use href="#t2" x="1506" y="906"/><use href="#t2" x="1506" y="939"/>
<text class="ft" font-size="4.6"><tspan x="1258" y="823.2">Feature 1:</tspan><tspan x="1258" y="828.5">Quick View</tspan><tspan x="1258" y="833.8">- Tool</tspan><tspan x="1258" y="839.1">Version</tspan></text>
<text class="ft" font-size="4.6"><tspan x="1258" y="854.2">Feature 2:</tspan><tspan x="1258" y="859.5">Loading</tspan><tspan x="1258" y="864.8">Screen /</tspan><tspan x="1258" y="870.1">Progress Bar</tspan></text>
<text class="ft" font-size="3.5"><tspan x="1258" y="882.5">Feature 3:</tspan><tspan x="1258" y="886.6">Design</tspan><tspan x="1258" y="890.7">consistent and</tspan><tspan x="1258" y="894.8">intuitive user</tspan><tspan x="1258" y="898.9">interactions</tspan></text>
<text class="ft" font-size="3.8"><tspan x="1258" y="913.2">Feature 4:</tspan><tspan x="1258" y="917.6">Make it easily</tspan><tspan x="1258" y="922">clickable in</tspan><tspan x="1258" y="926.4">toolbar</tspan></text>
<text class="ft" font-size="4"><tspan x="1258" y="944">Feature 5:</tspan><tspan x="1258" y="948.6">Searching</tspan><tspan x="1258" y="953.2">ability where</tspan><tspan x="1258" y="957.8">appropriate</tspan></text>
<text class="ft" font-size="6.5"><tspan x="1258" y="975.6">Feature</tspan><tspan x="1258" y="982.8">6:</tspan><tspan x="1258" y="990">Tooltips</tspan></text>
<text class="ft" font-size="4.6"><tspan x="1258" y="1063.2">Feature 9:</tspan><tspan x="1258" y="1068.5">Optimize</tspan><tspan x="1258" y="1073.8">layout and</tspan><tspan x="1258" y="1079.1">size</tspan></text>
<text class="ft" font-size="4.2"><tspan x="1258" y="1093.6">Feature 10:</tspan><tspan x="1258" y="1098.5">Keep user</tspan><tspan x="1258" y="1103.4">control over</tspan><tspan x="1258" y="1108.3">size of tool</tspan></text>
<text class="ft" font-size="4.6"><tspan x="1258" y="1123.2">Feature 11:</tspan><tspan x="1258" y="1128.5">Keep Pin</tspan><tspan x="1258" y="1133.8">Project</tspan><tspan x="1258" y="1139.1">feature</tspan></text>
<text class="ft" font-size="3.8"><tspan x="1291" y="824.2">Feature 12:</tspan><tspan x="1291" y="828.6">Keep Project /</tspan><tspan x="1291" y="833">Environment</tspan><tspan x="1291" y="837.4">Section</tspan></text>
<text class="ft" font-size="4.4"><tspan x="1291" y="854.4">Feature 13:</tspan><tspan x="1291" y="859.5">Keep Recent</tspan><tspan x="1291" y="864.6">Tools</tspan><tspan x="1291" y="869.7">Section</tspan></text>
<text class="ft" font-size="3.4"><tspan x="1291" y="882.7">Feature 14:</tspan><tspan x="1291" y="886.7">Keep Update</tspan><tspan x="1291" y="890.7">Sync Tool but</tspan><tspan x="1291" y="894.7">improve User</tspan><tspan x="1291" y="898.7">interactions</tspan></text>
<text class="ft" font-size="4.4"><tspan x="1291" y="944.4">Feature 16:</tspan><tspan x="1291" y="949.5">Optimize</tspan><tspan x="1291" y="954.6">Preferences</tspan><tspan x="1291" y="959.7">Menu</tspan></text>
<text class="ft" font-size="4.6"><tspan x="1291" y="1033.2">Feature 18:</tspan><tspan x="1291" y="1038.5">Use</tspan><tspan x="1291" y="1043.8">Intuitive</tspan><tspan x="1291" y="1049.1">Icons</tspan></text>
<text class="ft" font-size="4.2"><tspan x="1355" y="824.6">Required</tspan><tspan x="1355" y="829.5">Feature 1:</tspan><tspan x="1355" y="834.4">Add Help</tspan><tspan x="1355" y="839.3">Menu Option</tspan></text>
<text class="ft" font-size="3.5"><tspan x="1355" y="883.5">Required</tspan><tspan x="1355" y="887.6">Feature 3:</tspan><tspan x="1355" y="891.7">Include a “Send</tspan><tspan x="1355" y="895.8">Report” option</tspan><tspan x="1355" y="899.9">under Help</tspan></text>
<text class="ft" font-size="3.7"><tspan x="1355" y="944.2">Required</tspan><tspan x="1355" y="948.5">Feature 5:</tspan><tspan x="1355" y="952.8">Allow users to</tspan><tspan x="1355" y="957.1">save their</tspan><tspan x="1355" y="961.4">preferences</tspan></text>
<text class="ft" font-size="3.7"><tspan x="1355" y="1065.2">Required</tspan><tspan x="1355" y="1069.5">Feature 9:</tspan><tspan x="1355" y="1073.8">Provide Tabs:</tspan><tspan x="1355" y="1078.1">By Favorites,</tspan><tspan x="1355" y="1082.4">All Apps</tspan></text>
<text class="ft" font-size="4.2"><tspan x="1391" y="824.6">Required</tspan><tspan x="1391" y="829.5">Feature 12:</tspan><tspan x="1391" y="834.4">Keep Layout</tspan><tspan x="1391" y="839.3">Simple</tspan></text>
<text class="ft" font-size="3.9"><tspan x="1391" y="852.9">Required</tspan><tspan x="1391" y="857.4">Feature 13:</tspan><tspan x="1391" y="861.9">Optimize</tspan><tspan x="1391" y="866.4">Launcher</tspan><tspan x="1391" y="870.9">Workflow</tspan></text>
<text class="ft" font-size="3.5"><tspan x="1391" y="883.5">Required</tspan><tspan x="1391" y="887.6">Feature 14:</tspan><tspan x="1391" y="891.7">Minimize the</tspan><tspan x="1391" y="895.8">amount of</tspan><tspan x="1391" y="899.9">popup windows</tspan></text>
<text class="ft" font-size="3.5"><tspan x="1520" y="853.5">Stretch</tspan><tspan x="1520" y="857.6">Feature 2: Set</tspan><tspan x="1520" y="861.7">Preferred</tspan><tspan x="1520" y="865.8">Project Layout</tspan><tspan x="1520" y="869.9">for tools</tspan></text>
<text class="ft" font-size="3.5"><tspan x="1520" y="882.5">Stretch</tspan><tspan x="1520" y="886.6">Feature 3:</tspan><tspan x="1520" y="890.7">Provide users</tspan><tspan x="1520" y="894.8">with a “safe”</tspan><tspan x="1520" y="898.9">offline mode</tspan></text>
</g>

<g id="notes">
<text class="nt"><tspan x="1237" y="1178">Note: Naughty Dog Users – They use their own tools and they have their own way to launch Maya. Naughty Dog pipeline – Possibly need to look into this more during another Sprint</tspan><tspan x="1237" y="1181.8">Tool for Toolshelf. We need to consolidate the pipeline.</tspan><tspan x="1237" y="1185.6">Animation Team:</tspan><tspan x="1237" y="1189.4">Maya, MotionBuilder, Praxis, RV and Unreal.</tspan><tspan x="1237" y="1193.2">When users have more than two Toolshelf open, the taskbar icon for the Toolshelf disappears. This causes users to think that they may have closed the shelf by mistake, so they keep</tspan><tspan x="1237" y="1197">firing up new instances of the shelf. This happens with Praxis as well.</tspan><tspan x="1237" y="1200.8">Consolidate it in one tool for all apps.</tspan><tspan x="1237" y="1204.6">Discipline vs. Department</tspan><tspan x="1237" y="1208.4">It would be good to have some of the instructions on how to/default things on the Wiki would be helpful.</tspan><tspan x="1237" y="1212.2">Quickly Game Sync – It is faster and easier to launch tools. The Game Sync launches Unreal automatically. Usually users would never have to launch Unreal by itself</tspan><tspan x="1237" y="1216">Quickly Game Sync is not always used in this sync environment.</tspan><tspan x="1237" y="1219.8">User launches the Toolshelf directly from the command window.</tspan><tspan x="1237" y="1223.6">Add your most recent tools as your favorites and have them always there saved after the first time you set them so that you don't have to constantly be looking for them (Being able to</tspan><tspan x="1237" y="1227.4">minimize all of the options (Buttons) would be great. There's a lot of stuff here that I don't use, and I wonder if it might be confusing to new users.</tspan><tspan x="1237" y="1231.2">Could we bring a better error message to the console window when Toolshelf fails? Users need more information and sometimes will ask users if they want to send over a</tspan><tspan x="1237" y="1235">report of the failure state to Tools. This could be sent automatically to Engineering.</tspan><tspan x="1237" y="1238.8">Maybe considering changing the name of the Toolshelf. Also, if it's Toolshelf is a list of tools for all.</tspan></text>
</g>

<g id="scale">
<line x1="1762" y1="1003" x2="1817" y2="1003" stroke="#b0b0b0" stroke-width="1.2"/>
<line x1="1817" y1="1003" x2="1889" y2="1003" stroke="#555" stroke-width="1.2"/>
<text x="1767" y="1016.5" font-size="6" fill="#333">Low</text>
<text x="1765" y="1251.5" font-size="4.4" fill="#222">Features need to be usable, feasible, viable and valuable</text>
</g>
</svg>
